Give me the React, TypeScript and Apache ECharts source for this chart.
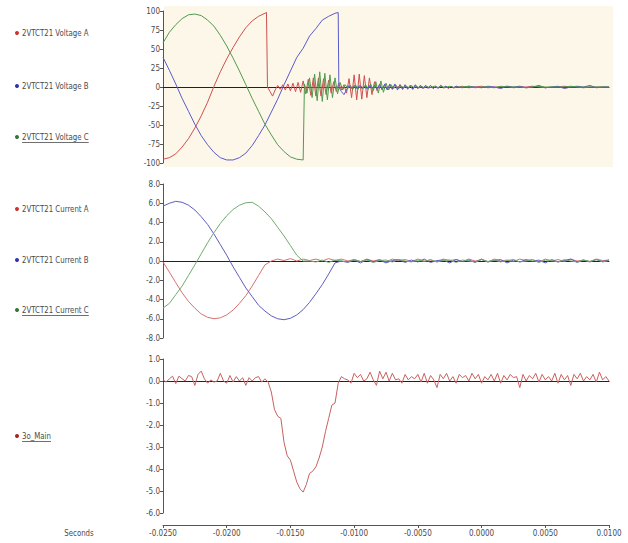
import React, { useEffect, useRef } from "react";
import * as echarts from "echarts";

// ---------- axis ranges / ticks ----------
const X_MIN = -0.025;
const X_MAX = 0.01;
const X_INTERVAL = 0.005;
const V_MIN = -100, V_MAX = 100, V_INTERVAL = 25;
const I_MIN = -8, I_MAX = 8, I_INTERVAL = 2;
const N_MIN = -6, N_MAX = 1, N_INTERVAL = 1;

// ---------- sample clocks ----------
const PRE_T0 = -0.025;
const PRE_DT = 0.0005;
const BURST_DT = 0.0002;
const TAIL_T0 = -0.0015;
const TAIL_DT = 0.0005;
const POST_I_DT = 0.0005;
const MAIN_T0 = -0.025;
const MAIN_DT = 0.00025;

// ---------- legend labels ----------
const voltageNames = ["2VTCT21 Voltage A", "2VTCT21 Voltage B", "2VTCT21 Voltage C"];
const currentNames = ["2VTCT21 Current A", "2VTCT21 Current B", "2VTCT21 Current C"];
const mainName = "3o_Main";
const xAxisTitle = "Seconds";

// ---------- Voltage A ----------
const voltageA_pre = [-95, -93, -88, -79, -68, -54, -38, -20, 1, 20, 37, 52, 66, 78, 87, 93, 97];
const voltageA_peak: [number, number] = [-0.01688, 98];
const voltageA_burstT0 = -0.0168;
const voltageA_burst = [
  0, -6, -12, -4, 2, -3, 3, -4, 4, -5, 5, -6, 6, -7,
  8, -9, 10, -11, 12, -12, 12, -12, 11, -10, 9, -8, 7, -6, 5, -4, 3,
  -8, 11, -14, 16, -17, 17, -16, 15, -14, 12, -10, 7, -5, 4, -3,
  3, -3, 3, -3, 3, -2, 3, -3, 2, -2, 2, -3, 2, -2, 2,
  -2, 2, -1, 2, -2, 1, -1, 2, -1, 1, -2, 1, -1, 1, 0,
];
const voltageA_tail = [1, -1, 0, 1, -1, 0, 0, 1, -1, 0, 0, 1, 0, -1, 0, 0, 1, 0, 0, -1, 0, 0, 0, 0];

// ---------- Voltage B ----------
const voltageB_pre = [39, 22, 4, -15, -32, -49, -64, -76, -86, -93, -96, -96, -93, -87, -77, -64, -50, -33, -16, 3, 21, 39, 51, 67, 77, 88, 93, 97];
const voltageB_peak: [number, number] = [-0.01125, 98];
const voltageB_burstT0 = -0.0112;
const voltageB_burst = [
  0, -6, -10, -4, 2, -2, 2, -2, 2, -2, 1, -2,
  2, -2, 2, -3, 3, -4, 4, -4, 4, -3, 4, -4,
  3, -3, 3, -3, 2, -3, 3, -2, 2, -2, 2, -2,
  2, -2, 1, -2, 2, -1, 1, -1, 1, -1, 1, 0,
];
const voltageB_tail = [-1, 1, 0, -1, 1, 0, -2, 1, 0, 1, -1, 0, 2, -1, 0, 1, -2, 0, 1, 0, 2, -1, 0, 0];

// ---------- Voltage C ----------
const voltageC_pre = [58, 72, 82, 90, 95, 96, 94, 88, 80, 68, 54, 38, 21, 3, -15, -32, -49, -63, -76, -85, -92, -95, -96];
const voltageC_burstT0 = -0.0139;
const voltageC_burst = [
  4, -8, 12, -14, 17, -18, 20, -19, 18, -17, 16, -14, 12, -9, 6,
  -4, 3, -2, 2, -3, 3, -3, 2, -2, 3, -3, 4, -5, 7, -8,
  8, -7, 5, -4, 3, -2, 2, -2, 1, -1, 1, -1, 2, -1, 1,
  -1, 1, -1, 1, -1, 0, 1, -1, 0, 1, -1, 0, 1, 0, -1, 0,
];
const voltageC_tail = [0, 1, -1, 0, 0, -1, 1, 0, 0, 0, -1, 0, 1, 0, 0, 0, 0, 1, 0, 0, 0, 0, 0, 0];

// ---------- Currents ----------
const currentA_pre = [-0.1, -1.15, -2.25, -3.3, -4.2, -4.9, -5.5, -5.85, -6.0, -5.9, -5.6, -5.1, -4.4, -3.6, -2.6, -1.5, -0.4];
const currentA_postT0 = -0.0165;
const currentA_post = [
  0, 0.2, 0.05, 0.25, 0.0, 0.2, 0.05, 0.2, 0.0,
  0.25, 0.05, 0.2, 0.0, 0.15, -0.05, 0.2, 0.0, 0.15,
  -0.1, 0.2, 0.05, 0.15, -0.05, 0.2, 0.0, 0.1, -0.1,
  0.2, 0.05, 0.15, -0.05, 0.2, 0.0, 0.15, -0.1, 0.2,
  0.0, 0.1, -0.05, 0.2, 0.05, 0.15, -0.1, 0.2, 0.0,
  0.15, -0.05, 0.2, 0.0, 0.1, -0.05, 0.2, 0.05, 0.1,
];
const currentB_pre = [5.7, 6.0, 6.2, 6.1, 5.8, 5.3, 4.6, 3.8, 2.8, 1.7, 0.6, -0.6, -1.7, -2.8, -3.7, -4.6, -5.2, -5.7, -6.0, -6.1, -5.95, -5.6, -5.05, -4.3, -3.4, -2.45, -1.35, -0.2];
const currentB_postT0 = -0.011;
const currentB_post = [
  0, -0.15, 0.1, -0.2, 0.15, -0.1, 0.1, -0.2, 0.05, 0.15, -0.15,
  0.1, -0.1, 0.2, -0.15, 0.05, 0.1, -0.2, 0.15, -0.05, 0.1, -0.15,
  0.2, -0.1, 0.05, 0.15, -0.2, 0.1, -0.1, 0.15, -0.05, 0.1, -0.2,
  0.15, -0.1, 0.05, 0.2, -0.15, 0.1, -0.1, 0.15, -0.05, 0.1,
];
const currentC_pre = [-4.9, -4.4, -3.5, -2.6, -1.5, -0.4, 0.75, 1.9, 2.95, 3.9, 4.7, 5.35, 5.8, 6.05, 6.1, 5.7, 5.1, 4.4, 3.5, 2.6, 1.6, 0.6, 0.0];
const currentC_postT0 = -0.0135;
const currentC_post = [
  0, -0.1, 0.1, -0.15, 0.1, 0.0, -0.1, 0.15,
  -0.05, 0.1, -0.15, 0.05, 0.1, -0.1, 0.15, 0.0,
  -0.1, 0.1, -0.05, 0.15, -0.1, 0.05, 0.1, -0.15,
  0.1, 0.0, -0.1, 0.15, -0.05, 0.1, -0.1, 0.05,
  0.15, -0.1, 0.0, 0.1, -0.15, 0.1, 0.05, -0.1,
  0.15, 0.0, -0.1, 0.1, -0.05, 0.15, -0.1, 0.05,
];

// ---------- 3o_Main ----------
const main_pre = [
  0.05, -0.05, 0.1, 0.22, -0.12, 0.22, 0.1, 0.0, 0.25, 0.2,
  -0.2, 0.3, 0.45, 0.1, -0.1, 0.05, -0.05, 0.0, 0.35, 0.0,
  -0.1, 0.25, -0.05, 0.2, 0.0, 0.15, -0.2, 0.15, 0.0, 0.15,
  0.2, -0.05, 0.1, -0.05,
];
const main_dip = [
  -0.5, -1.3, -1.6, -1.7, -2.8, -3.4, -3.6, -4.1, -4.6, -4.9, -5.05,
  -4.7, -4.2, -4.1, -3.9, -3.5, -3.0, -2.3, -1.7, -1.1, -1.0, -0.1,
];
const main_post = [
  0.2, 0.1, 0.05, -0.1, 0.35, 0.15, 0.3, 0.0, 0.1, 0.4,
  0.05, -0.2, 0.45, 0.1, 0.4, 0.0, 0.35, 0.05, 0.1, -0.1,
  0.3, 0.05, 0.2, 0.1, 0.3, -0.05, 0.35, -0.1, 0.25, 0.05,
  -0.3, 0.3, 0.1, 0.35, 0.0, 0.2, -0.1, 0.3, 0.15, 0.25,
  0.0, 0.35, 0.1, 0.3, -0.1, 0.2, 0.05, 0.3, 0.0, 0.35,
  -0.1, 0.25, 0.05, 0.3, 0.15, 0.2, -0.3, 0.3, 0.0, 0.25,
  0.1, 0.35, -0.05, 0.3, 0.05, 0.2, 0.0, 0.35, -0.1, 0.3,
  0.05, 0.25, -0.2, 0.3, 0.1, 0.35, 0.0, 0.2, 0.05, 0.3,
  -0.05, 0.4, 0.05, 0.2, 0.0,
];

// ---------- styling ----------
const FONT = '"Liberation Sans Narrow", "DejaVu Sans Condensed", "Arial Narrow", sans-serif';
const TEXT_COLOR = "#4a4a4a";
const AXIS_COLOR = "#555";
const RED = "#cf4f4f";
const BLUE = "#5a5acb";
const GREEN = "#4f9a4f";
const RED_I = "#d97070";
const BLUE_I = "#5c5cc0";
const GREEN_I = "#6fab6f";
const MAIN_COLOR = "#c96060";
const LEGEND_SIZE = 9.5;
const LEGEND_SCALE = 0.82;

function seq(t0: number, dt: number, vals: number[]): [number, number][] {
  return vals.map((v, i) => [Number((t0 + i * dt).toFixed(6)), v] as [number, number]);
}

function measure(text: string, size: number): number {
  const c = document.createElement("canvas").getContext("2d");
  if (!c) return text.length * size * 0.5;
  c.font = `${size}px ${FONT}`;
  return c.measureText(text).width;
}

export default function App() {
  const ref = useRef<HTMLDivElement>(null);

  useEffect(() => {
    if (!ref.current) return;
    const chart = echarts.init(ref.current, undefined, { renderer: "svg" });

    const vA = [...seq(PRE_T0, PRE_DT, voltageA_pre), voltageA_peak, ...seq(voltageA_burstT0, BURST_DT, voltageA_burst), ...seq(TAIL_T0, TAIL_DT, voltageA_tail)];
    const vB = [...seq(PRE_T0, PRE_DT, voltageB_pre), voltageB_peak, ...seq(voltageB_burstT0, BURST_DT, voltageB_burst), ...seq(TAIL_T0, TAIL_DT, voltageB_tail)];
    const vC = [...seq(PRE_T0, PRE_DT, voltageC_pre), ...seq(voltageC_burstT0, BURST_DT, voltageC_burst), ...seq(TAIL_T0, TAIL_DT, voltageC_tail)];
    const iA = [...seq(PRE_T0, PRE_DT, currentA_pre), ...seq(currentA_postT0, POST_I_DT, currentA_post)];
    const iB = [...seq(PRE_T0, PRE_DT, currentB_pre), ...seq(currentB_postT0, POST_I_DT, currentB_post)];
    const iC = [...seq(PRE_T0, PRE_DT, currentC_pre), ...seq(currentC_postT0, POST_I_DT, currentC_post)];
    const m = seq(MAIN_T0, MAIN_DT, [...main_pre, ...main_dip, ...main_post]);

    const gridTop = [11, 184, 359];
    const gridH = [152, 154, 154];

    const hiddenX = (gridIndex: number) => ({
      type: "value",
      gridIndex,
      min: X_MIN,
      max: X_MAX,
      interval: X_INTERVAL,
      axisLine: { show: true, onZero: true, lineStyle: { color: "#222", width: 1 } },
      axisTick: { show: false },
      axisLabel: { show: false },
      splitLine: { show: false },
    });

    const yAxisFor = (gridIndex: number, min: number, max: number, interval: number, digits: number) => ({
      type: "value",
      gridIndex,
      min,
      max,
      interval,
      axisLine: { show: true, onZero: false, lineStyle: { color: AXIS_COLOR, width: 1 } },
      axisTick: { show: true, length: 3, lineStyle: { color: AXIS_COLOR } },
      axisLabel: {
        show: true,
        fontSize: 8,
        fontFamily: FONT,
        color: TEXT_COLOR,
        margin: 3,
        formatter: (v: number) => v.toFixed(digits),
      },
      splitLine: { show: false },
    });

    const line = (name: string, data: [number, number][], color: string, gi: number, xi: number) => ({
      name,
      type: "line",
      xAxisIndex: xi,
      yAxisIndex: gi,
      data,
      showSymbol: false,
      symbol: "none",
      lineStyle: { color, width: 1 },
      itemStyle: { color },
      clip: true,
      silent: true,
    });

    const legendItems: any[] = [];
    const addLegend = (text: string, color: string, y: number, underline: boolean) => {
      legendItems.push({ type: "circle", shape: { cx: 17, cy: y, r: 2 }, style: { fill: color }, z: 10 });
      legendItems.push({
        type: "text",
        x: 22,
        y,
        scaleX: LEGEND_SCALE,
        style: { text, fill: TEXT_COLOR, fontSize: LEGEND_SIZE, fontFamily: FONT, verticalAlign: "middle", align: "left" },
        z: 10,
      });
      if (underline) {
        const w = measure(text, LEGEND_SIZE) * LEGEND_SCALE;
        legendItems.push({
          type: "line",
          shape: { x1: 22, y1: y + 5.5, x2: 22 + w, y2: y + 5.5 },
          style: { stroke: TEXT_COLOR, lineWidth: 0.8 },
          z: 10,
        });
      }
    };
    addLegend(voltageNames[0], "#cc3333", 33, false);
    addLegend(voltageNames[1], "#3333aa", 86, false);
    addLegend(voltageNames[2], "#337733", 137, true);
    addLegend(currentNames[0], "#cc3333", 209, false);
    addLegend(currentNames[1], "#3333aa", 260, false);
    addLegend(currentNames[2], "#337733", 310, true);
    addLegend(mainName, "#aa2222", 436, true);

    const option: any = {
      animation: false,
      backgroundColor: "#ffffff",
      grid: gridTop.map((top, i) => ({ left: 163, right: 19, top, height: gridH[i], containLabel: false })),
      xAxis: [
        hiddenX(0),
        hiddenX(1),
        {
          type: "value",
          gridIndex: 2,
          min: X_MIN,
          max: X_MAX,
          interval: X_INTERVAL,
          offset: 12,
          axisLine: { show: true, onZero: false, lineStyle: { color: AXIS_COLOR, width: 1 } },
          axisTick: { show: true, length: 3, lineStyle: { color: AXIS_COLOR } },
          axisLabel: {
            show: true,
            fontSize: 8,
            fontFamily: FONT,
            color: TEXT_COLOR,
            margin: 4,
            formatter: (v: number) => v.toFixed(4),
          },
          splitLine: { show: false },
        },
        hiddenX(2),
      ],
      yAxis: [
        yAxisFor(0, V_MIN, V_MAX, V_INTERVAL, 0),
        yAxisFor(1, I_MIN, I_MAX, I_INTERVAL, 1),
        yAxisFor(2, N_MIN, N_MAX, N_INTERVAL, 1),
      ],
      graphic: [
        {
          type: "rect",
          shape: { x: 164, y: 6, width: 449, height: 161 },
          style: { fill: "#fdf7e9" },
          z: -10,
          silent: true,
        },
        ...legendItems,
        {
          type: "text",
          x: 79,
          y: 533,
          scaleX: LEGEND_SCALE,
          style: { text: xAxisTitle, fill: TEXT_COLOR, fontSize: LEGEND_SIZE, fontFamily: FONT, align: "center", verticalAlign: "middle" },
        },
      ],
      series: [
        line(voltageNames[0], vA, RED, 0, 0),
        line(voltageNames[1], vB, BLUE, 0, 0),
        line(voltageNames[2], vC, GREEN, 0, 0),
        line(currentNames[0], iA, RED_I, 1, 1),
        line(currentNames[1], iB, BLUE_I, 1, 1),
        line(currentNames[2], iC, GREEN_I, 1, 1),
        line(mainName, m, MAIN_COLOR, 2, 3),
      ],
    };

    chart.setOption(option);
    return () => chart.dispose();
  }, []);

  return (
    <div
      ref={ref}
      style={{ position: "absolute", left: 0, top: 0, width: 628, height: 543, background: "#fff" }}
    />
  );
}
